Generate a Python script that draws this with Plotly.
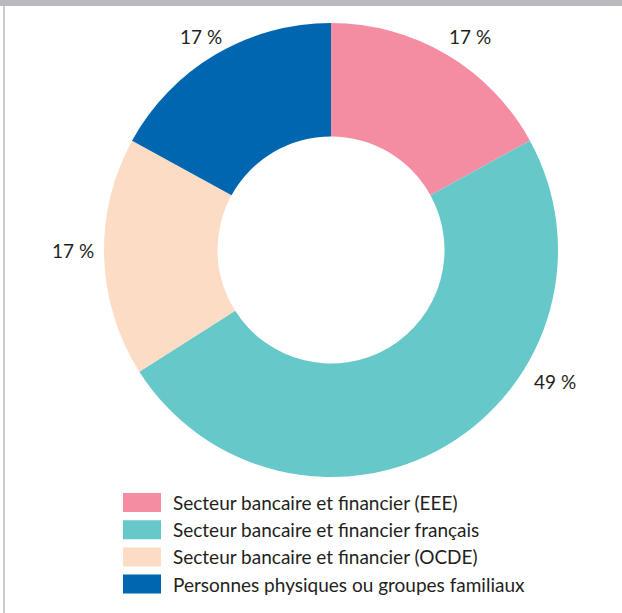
import math
import plotly.graph_objects as go

# Shareholding breakdown (%)
categories = [
    "Secteur bancaire et financier (EEE)",
    "Secteur bancaire et financier français",
    "Secteur bancaire et financier (OCDE)",
    "Personnes physiques ou groupes familiaux",
]
shares = [17, 49, 17, 17]
colors = ["#F48DA2", "#66C8C8", "#FDDCC6", "#0066AF"]

# Label placement around the ring (degrees clockwise from 12 o'clock, radius in px)
label_angles = [33, 120.5, 270, 328.6]
label_radii = [255, 260, 258, 250]

W, H = 622, 613
CX, CY, R = 331, 250, 227
TEXT = "#231F20"
FONT = "Lato"


def px(x):
    return x / W


def py(y):
    return 1 - y / H


fig = go.Figure(
    go.Pie(
        labels=categories,
        values=shares,
        marker=dict(colors=colors, line=dict(width=0)),
        hole=0.5,
        sort=False,
        direction="clockwise",
        rotation=0,
        textinfo="none",
        hoverinfo="label+value",
        showlegend=False,
        domain=dict(x=[px(CX - R), px(CX + R)], y=[py(CY + R), py(CY - R)]),
    )
)

annotations = []
for v, ang, rad in zip(shares, label_angles, label_radii):
    a = math.radians(ang)
    annotations.append(
        dict(
            x=px(CX + rad * math.sin(a)),
            y=py(CY - rad * math.cos(a)),
            xref="paper",
            yref="paper",
            text=f"{v} %",
            showarrow=False,
            xanchor="center",
            yanchor="middle",
            font=dict(family=FONT, size=19, color=TEXT),
        )
    )

shapes = [
    # header strip
    dict(type="rect", xref="paper", yref="paper", x0=0, x1=1, y0=py(6), y1=1,
         fillcolor="#B9BABE", line=dict(width=0)),
    # left frame line
    dict(type="rect", xref="paper", yref="paper", x0=px(3), x1=px(5), y0=0, y1=py(6),
         fillcolor="#CBCBCB", line=dict(width=0)),
]

# Legend: swatches and labels
row_top = 493
row_step = 27.2
for i, (name, col) in enumerate(zip(categories, colors)):
    y0 = row_top + i * row_step
    y1 = y0 + 19
    shapes.append(dict(type="rect", xref="paper", yref="paper",
                       x0=px(123), x1=px(161), y0=py(y1), y1=py(y0),
                       fillcolor=col, line=dict(width=0)))
    annotations.append(dict(
        x=px(171), y=py((y0 + y1) / 2), xref="paper", yref="paper",
        text=name, showarrow=False, xanchor="left", yanchor="middle",
        font=dict(family=FONT, size=19, color=TEXT),
    ))

fig.update_layout(
    width=W,
    height=H,
    margin=dict(l=0, r=0, t=0, b=0),
    paper_bgcolor="white",
    plot_bgcolor="white",
    shapes=shapes,
    annotations=annotations,
)

fig.write_html("out.html")
